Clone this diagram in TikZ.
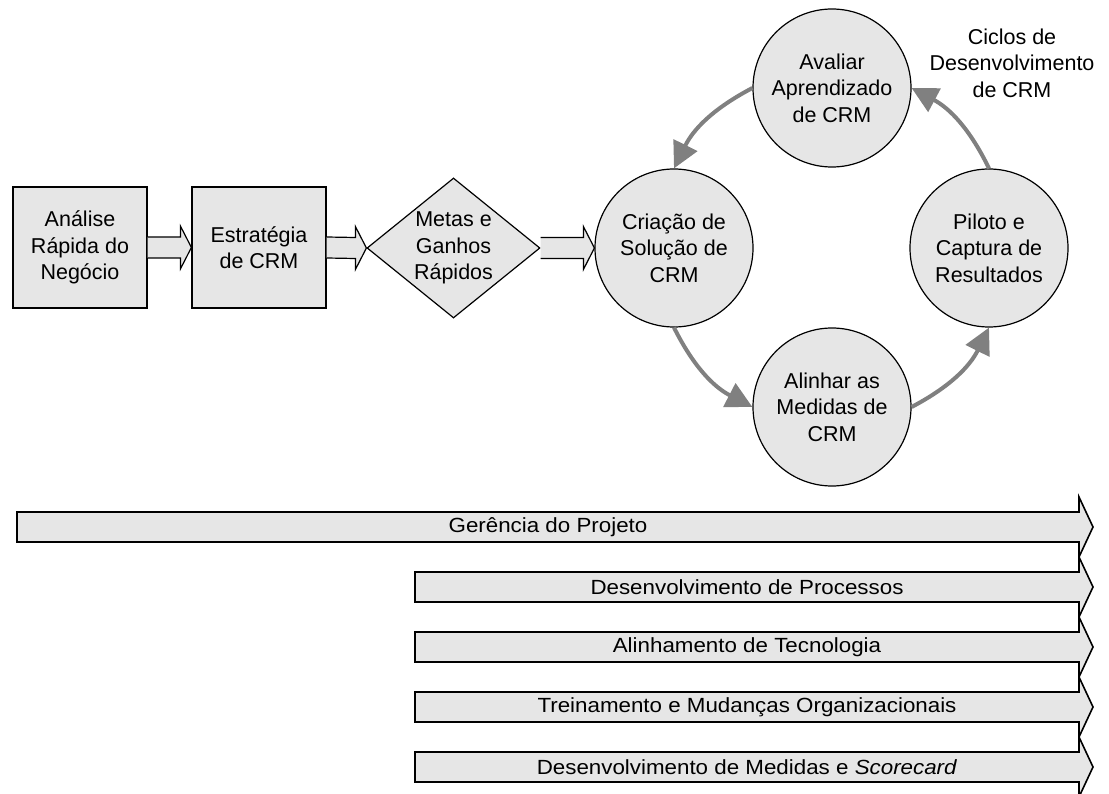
\documentclass[tikz,border=0pt]{standalone}
\usepackage{fontspec}
\usepackage{graphicx}
\setmainfont{Liberation Sans}
\usetikzlibrary{shapes.geometric,arrows.meta,calc}
\definecolor{boxfill}{RGB}{230,230,230}
\definecolor{cyclegray}{RGB}{128,128,128}

% block arrow between two nodes on the same horizontal line
\newcommand\blockarrow[2]{%
  \draw[blockarrow] ($(#1.east)+(0,-10.5)$) -- ($(#2.west)+(-11,-10.5)$)
    -- ($(#2.west)+(-11,-21.5)$) -- (#2.west) -- ($(#2.west)+(-11,21.5)$)
    -- ($(#2.west)+(-11,10.5)$) -- ($(#1.east)+(0,10.5)$);}

% workstream band: #1 name, #2 left x, #3 centre y, #4 label
\newcommand\band[4]{%
  \draw[bandshape] (#2,#3-15) -- (1079,#3-15) -- (1079,#3-30) -- (1093,#3)
    -- (1079,#3+30) -- (1079,#3+15) -- (#2,#3+15) -- cycle;
  \node[bandtext] (#1) at ({(#2+1079)/2},#3) {\scalebox{1.09}[1]{#4}};}

\begin{document}
\begin{tikzpicture}[x=1pt,y=-1pt,
  every node/.style={font=\fontsize{21.5}{26.5}\selectfont, align=center},
  stage/.style={draw=black, line width=1.2pt, fill=boxfill, rectangle,
    minimum width=134, minimum height=121, inner sep=0},
  phase/.style={draw=black, line width=1.2pt, fill=boxfill, circle,
    minimum size=158, inner sep=0},
  goal/.style={draw=black, line width=1.2pt, fill=boxfill, diamond,
    minimum width=173, minimum height=140, inner sep=0},
  blockarrow/.style={draw=black, line width=1.2pt, fill=boxfill, line join=miter},
  cyclearrow/.style={draw=cyclegray, line width=4pt,
    -{Triangle[length=26pt,width=26pt,fill=cyclegray]}},
  bandshape/.style={draw=black, line width=1.6pt, fill=boxfill, line join=miter},
  bandtext/.style={font=\fontsize{20.5}{24}\selectfont}
]
\useasboundingbox (0,0) rectangle (1109,794);

% linear stages
\node[stage] (analise) at (80,247.5) {Análise\\Rápida do\\Negócio};
\node[stage] (estrategia) at (259,247.5) {Estratégia\\de CRM};
\node[goal, label={[align=center]center:Metas e\\Ganhos\\Rápidos}] (metas) at (453.5,248) {};

% development cycle
\node[phase] (criacao) at (674,248) {Criação de\\Solução de\\CRM};
\node[phase] (avaliar) at (832,88) {Avaliar\\Aprendizado\\de CRM};
\node[phase] (piloto) at (989,248) {Piloto e\\Captura de\\Resultados};
\node[phase] (alinhar) at (832,407) {Alinhar as\\Medidas de\\CRM};
\node (ciclos) at (1012,63) {Ciclos de\\Desenvolvimento\\de CRM};

\blockarrow{analise}{estrategia}
\blockarrow{estrategia}{metas}
\blockarrow{metas}{criacao}

\draw[cyclearrow] (avaliar.west) to[bend right=18] (criacao.north);
\draw[cyclearrow] (criacao.south) to[bend right=18] (alinhar.west);
\draw[cyclearrow] (alinhar.east) to[bend right=18] (piloto.south);
\draw[cyclearrow] (piloto.north) to[bend right=18] (avaliar.east);

% parallel workstreams
\band{gerencia}{17}{527}{Gerência do Projeto}
\band{processos}{415}{587}{Desenvolvimento de Processos}
\band{tecnologia}{415}{647}{Alinhamento de Tecnologia}
\band{treinamento}{415}{707}{Treinamento e Mudanças Organizacionais}
\band{medidas}{415}{767}{Desenvolvimento de Medidas e \textit{Scorecard}}
\end{tikzpicture}
\end{document}
